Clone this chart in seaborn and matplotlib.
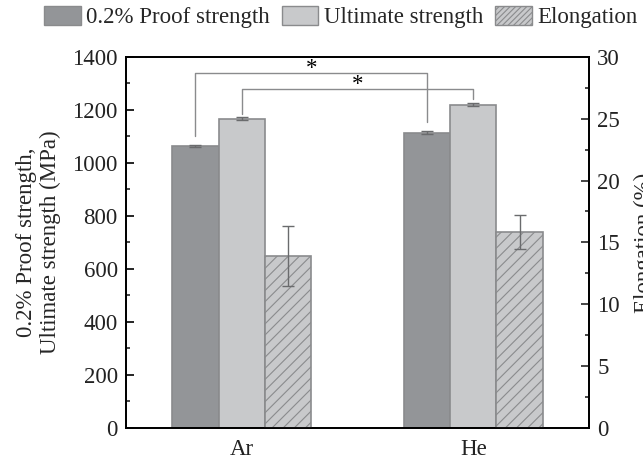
import numpy as np
import pandas as pd
import matplotlib
matplotlib.use("Agg")
import matplotlib.pyplot as plt
import seaborn as sns
from matplotlib.patches import Patch

# ---- data ----
gases = ["Ar", "He"]
proof = [1064, 1114]
proof_err = [3, 5]
ultimate = [1167, 1220]
ultimate_err = [5, 5]
elong = [13.9, 15.85]
elong_err = [2.45, 1.35]
series = ["0.2% Proof strength", "Ultimate strength", "Elongation"]

sns.set_theme(style="white")
plt.rcParams["font.family"] = ["Liberation Serif", "DejaVu Serif"]
plt.rcParams["hatch.color"] = "#8c8d8f"
plt.rcParams["hatch.linewidth"] = 0.8

FS = 16.5
c_dark = "#939598"
c_light = "#c8c9cb"
c_edge = "#8a8b8d"
c_err = "#6a6b6d"

fig = plt.figure(figsize=(6.43, 4.62), dpi=100)
ax = fig.add_axes([0.196, 0.0736, 0.72, 0.8034])
ax2 = ax.twinx()

df_left = pd.DataFrame({
    "gas": gases * 3,
    "series": [series[0]] * 2 + [series[1]] * 2 + [series[2]] * 2,
    "value": proof + ultimate + [np.nan, np.nan],
})
df_right = pd.DataFrame({
    "gas": gases * 3,
    "series": [series[0]] * 2 + [series[1]] * 2 + [series[2]] * 2,
    "value": [np.nan] * 4 + elong,
})
palette = {series[0]: c_dark, series[1]: c_light, series[2]: c_light}

sns.barplot(data=df_left, x="gas", y="value", hue="series", hue_order=series,
            order=gases, palette=palette, width=0.6, errorbar=None,
            edgecolor=c_edge, linewidth=1.2, legend=False, ax=ax, saturation=1)
sns.barplot(data=df_right, x="gas", y="value", hue="series", hue_order=series,
            order=gases, palette=palette, width=0.6, errorbar=None,
            edgecolor=c_edge, linewidth=1.2, legend=False, ax=ax2, saturation=1)
for p in ax2.patches:
    p.set_hatch("///")

# error bars from the bar patches
def bar_centers(container):
    return [(p.get_x() + p.get_width() / 2, p.get_height()) for p in container.patches]

left_conts = [c for c in ax.containers if len(c.patches) > 0]
right_conts = [c for c in ax2.containers if len(c.patches) > 0]
errs_left = [proof_err, ultimate_err]
centers_left = []
for cont, errs in zip(left_conts, errs_left):
    cs = bar_centers(cont)
    centers_left.append(cs)
    ax.errorbar([c[0] for c in cs], [c[1] for c in cs], yerr=errs, fmt="none",
                ecolor=c_err, elinewidth=1.0, capsize=4, capthick=1.0, zorder=5)
for cont in right_conts:
    cs = bar_centers(cont)
    ax2.errorbar([c[0] for c in cs], [c[1] for c in cs], yerr=elong_err, fmt="none",
                 ecolor=c_err, elinewidth=1.0, capsize=4, capthick=1.0, zorder=5)

# significance brackets
br_col = "#8a8b8d"
(p_ar, p_he) = centers_left[0]
(u_ar, u_he) = centers_left[1]
ax.plot([p_ar[0], p_ar[0], p_he[0], p_he[0]], [1102, 1338, 1338, 1155],
        color=br_col, lw=1.0, zorder=6)
ax.plot([u_ar[0], u_ar[0], u_he[0], u_he[0]], [1185, 1278, 1278, 1240],
        color=br_col, lw=1.0, zorder=6)
ax.text((p_ar[0] + p_he[0]) / 2, 1338 - 4, "*", ha="center", va="baseline",
        fontsize=FS, color="black")
ax.text((u_ar[0] + u_he[0]) / 2, 1278 - 4, "*", ha="center", va="baseline",
        fontsize=FS, color="black")

# axes
ax.set_xlim(-0.5, 1.5)
ax.set_ylim(0, 1400)
ax2.set_ylim(0, 30)
ax.set_yticks(np.arange(0, 1401, 200))
ax.set_yticks(np.arange(100, 1400, 200), minor=True)
ax2.set_yticks(np.arange(0, 31, 5))
ax2.set_yticks(np.arange(2.5, 30, 5), minor=True)
ax.set_xlabel("")
ax.set_ylabel("0.2% Proof strength,\nUltimate strength (MPa)", fontsize=FS,
              labelpad=8, linespacing=1.15)
ax2.set_ylabel("Elongation (%)", fontsize=FS, labelpad=10)
ax.tick_params(axis="y", which="major", direction="in", length=6, width=1.2,
               labelsize=FS, pad=6, colors="black")
ax.tick_params(axis="y", which="minor", direction="in", length=3, width=1.2, left=True)
ax.tick_params(axis="x", which="both", length=0, labelsize=FS, pad=8)
ax2.tick_params(axis="y", which="major", direction="in", length=6, width=1.2,
                labelsize=FS, pad=6)
ax2.tick_params(axis="y", which="minor", direction="in", length=3, width=1.2, right=True)
for a in (ax, ax2):
    for s in a.spines.values():
        s.set_visible(True)
        s.set_color("black")
        s.set_linewidth(1.3)
for lab in ax.get_yticklabels() + ax.get_xticklabels() + ax2.get_yticklabels():
    lab.set_color("#222222")

# legend
handles = [Patch(facecolor=c_dark, edgecolor=c_edge, linewidth=1.0),
           Patch(facecolor=c_light, edgecolor=c_edge, linewidth=1.0),
           Patch(facecolor=c_light, edgecolor=c_edge, linewidth=1.0, hatch="//////")]
fig.legend(handles, series, loc="center", bbox_to_anchor=(0.53, 0.963), ncol=3,
           frameon=False, fontsize=FS, handlelength=1.6, handleheight=0.9,
           handletextpad=0.25, columnspacing=0.5, borderpad=0.1)

fig.savefig("out.png", dpi=100)
